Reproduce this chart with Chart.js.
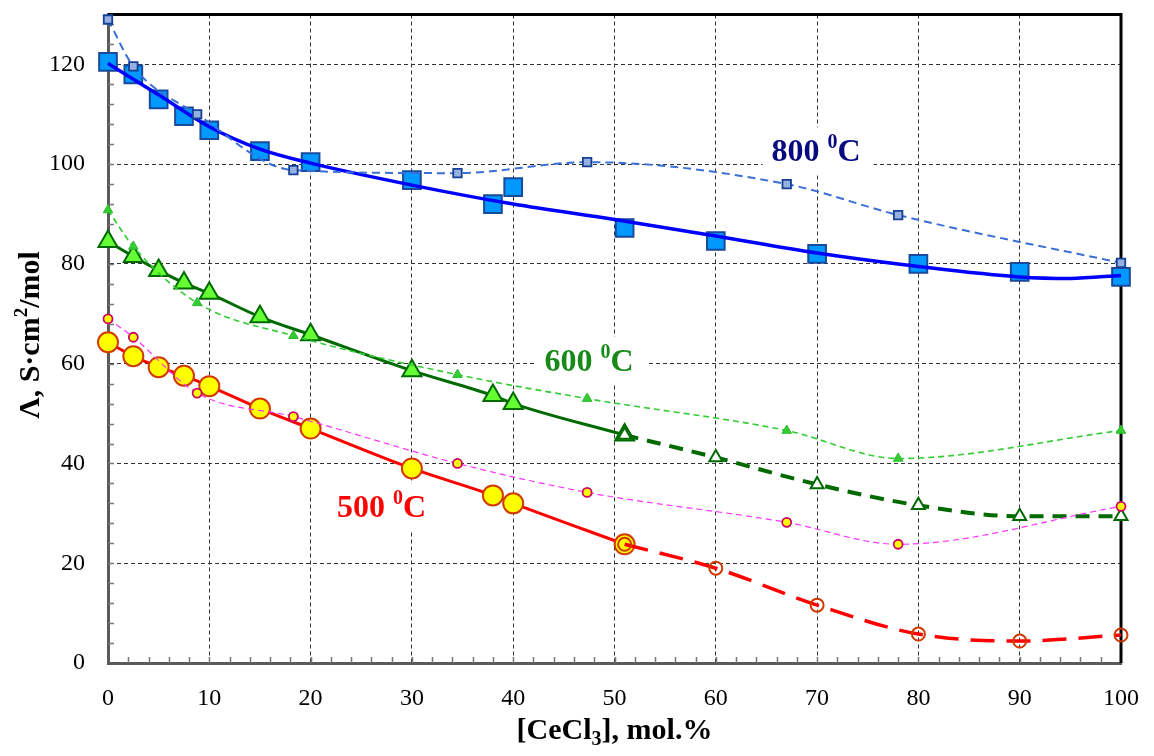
<!DOCTYPE html>
<html>
<head>
<meta charset="utf-8">
<script src="https://cdn.jsdelivr.net/npm/chart.js@4.4.1/dist/chart.umd.min.js"></script>
<style>
    body { margin: 0; background: #fff; }
    canvas { display: block; }
</style>
</head>
<body>
<canvas id="condChart" width="1154" height="756"></canvas>
<script>
// composition, mol.% CeCl3
const xMain = [0, 2.5, 5, 7.5, 10, 15, 20, 30, 38, 40, 51];
const xMain800 = [0, 2.5, 5, 7.5, 10, 15, 20, 30, 38, 40, 51, 60, 70, 80, 90, 100];
const xTail = [51, 60, 70, 80, 90, 100];
const xRef = [0, 2.5, 8.8, 18.3, 34.5, 47.3, 67, 78, 100];
const xFit800 = [0, 2.5, 5, 7.5, 10, 15, 20, 30, 40, 50, 60, 70, 80, 90, 95, 100];

// molar conductivity, S·cm2/mol
const cond800 = [120.5, 118, 113, 109.6, 106.8, 102.6, 100.4, 96.8, 92, 95.4, 87.2, 84.6, 82, 80, 78.4, 77.4];
const fit800 = [120.2, 117.0, 113.9, 110.6, 107.5, 103.0, 100.2, 95.8, 92.0, 88.9, 85.6, 82.2, 79.5, 77.4, 77.1, 77.7];
const cond600 = [84.5, 81.5, 78.7, 76.2, 74.1, 69.4, 65.8, 58.6, 53.6, 52, 45.7];
const cond500 = [64.3, 61.5, 59.3, 57.6, 55.5, 51, 47, 39, 33.6, 32, 23.8];
const tail600 = [45.7, 41.2, 35.8, 31.6, 29.4, 29.4];
const tail500 = [23.8, 19, 11.6, 5.8, 4.4, 5.6];
const ref800 = [129, 119.6, 110, 98.8, 98.2, 100.4, 96, 89.8, 80.2];
const ref600 = [90.8, 83.5, 72.2, 65.6, 57.8, 53, 46.6, 41, 46.6];
const ref500 = [69, 65.3, 54.1, 49.4, 40, 34.2, 28.2, 23.8, 31.4];

const yTicks = [0, 20, 40, 60, 80, 100, 120];
const tempLabels = ['800', '600', '500'];

const SERIF = "'Liberation Serif', 'Times New Roman', serif";

function pts(xs, ys) {
    return xs.map((x, i) => ({ x: x, y: ys[i] }));
}

// draws a run of text pieces (with sub/superscripts)
function drawRich(ctx, parts, x, y, align) {
    let total = 0;
    parts.forEach(p => { ctx.font = p.font; total += ctx.measureText(p.text).width; });
    let cx = align === 'center' ? x - total / 2 : x;
    parts.forEach(p => {
        ctx.font = p.font;
        ctx.fillText(p.text, cx, y + (p.dy || 0));
        cx += ctx.measureText(p.text).width;
    });
    return total;
}

function tempParts(t) {
    return [
        { text: t + ' ', font: 'bold 32px ' + SERIF },
        { text: '0', font: 'bold 20px ' + SERIF, dy: -13 },
        { text: 'C', font: 'bold 32px ' + SERIF }
    ];
}

// keep tick labels from pushing the plot area around
function noPad(s) {
    s.paddingTop = 0;
    s.paddingBottom = 0;
    s.paddingLeft = 0;
    s.paddingRight = 0;
}

/* =====================
   Frame, minor ticks, labels
   ===================== */
const decorPlugin = {
    id: 'decor',
    beforeDatasetsDraw(chart) {
        const { ctx, chartArea: a, scales: { x, y } } = chart;
        ctx.save();

        // minor ticks on the inside of the axes
        ctx.strokeStyle = '#777';
        ctx.lineWidth = 1.5;
        ctx.beginPath();
        for (let v = 4; v < 130; v += 4) {
            const py = Math.round(y.getPixelForValue(v)) + 0.5;
            ctx.moveTo(a.left, py);
            ctx.lineTo(a.left + 6, py);
        }
        for (let v = 2; v < 100; v += 2) {
            const px = Math.round(x.getPixelForValue(v)) + 0.5;
            ctx.moveTo(px, a.bottom);
            ctx.lineTo(px, a.bottom - 6);
        }
        ctx.stroke();

        // top and right border
        ctx.strokeStyle = '#000';
        ctx.lineWidth = 3;
        ctx.beginPath();
        ctx.moveTo(a.left, a.top);
        ctx.lineTo(a.right, a.top);
        ctx.lineTo(a.right, a.bottom);
        ctx.stroke();

        // temperature labels on white boxes
        const spots = [
            { x: 65.5, y: 100.6, color: '#0a0a80' },
            { x: 43.1, y: 58.6, color: '#178a17' },
            { x: 22.6, y: 29.2, color: '#ff0000' }
        ];
        ctx.textBaseline = 'alphabetic';
        spots.forEach((s, i) => {
            const px = x.getPixelForValue(s.x);
            const py = y.getPixelForValue(s.y);
            const parts = tempParts(tempLabels[i]);
            let w = 0;
            parts.forEach(p => { ctx.font = p.font; w += ctx.measureText(p.text).width; });
            ctx.fillStyle = '#fff';
            ctx.fillRect(px - 9, py - 34, w + 22, 48);
            ctx.fillStyle = s.color;
            drawRich(ctx, parts, px, py, 'left');
        });
        ctx.restore();
    },
    afterDraw(chart) {
        const { ctx, chartArea: a } = chart;
        ctx.save();
        ctx.fillStyle = '#000';
        ctx.textBaseline = 'alphabetic';

        // x axis title with subscript
        drawRich(ctx, [
            { text: '[CeCl', font: 'bold 30px ' + SERIF },
            { text: '3', font: 'bold 20px ' + SERIF, dy: 6 },
            { text: '], mol.%', font: 'bold 30px ' + SERIF }
        ], (a.left + a.right) / 2, 739, 'center');

        // y axis title with superscript
        ctx.translate(39, 335);
        ctx.rotate(-Math.PI / 2);
        drawRich(ctx, [
            { text: 'Λ, S·cm', font: 'bold 30px ' + SERIF },
            { text: '2', font: 'bold 19px ' + SERIF, dy: -12 },
            { text: '/mol', font: 'bold 30px ' + SERIF }
        ], 0, 0, 'center');
        ctx.restore();
    }
};

const ctx = document.getElementById('condChart');
new Chart(ctx, {
    type: 'line',
    data: {
        datasets: [
            // 800 C measured
            {
                data: pts(xMain800, cond800),
                showLine: false,
                pointStyle: 'rect',
                pointRadius: 12.5,
                backgroundColor: '#0099ff',
                borderColor: '#1a4a9c',
                pointBorderWidth: 2,
                order: 10
            },
            // 800 C fitted curve
            {
                data: pts(xFit800, fit800),
                borderColor: '#0000ff',
                borderWidth: 3.5,
                pointRadius: 0,
                cubicInterpolationMode: 'monotone',
                order: 9
            },
            // 600 C measured with trend
            {
                data: pts(xMain, cond600),
                borderColor: '#006a00',
                borderWidth: 3,
                pointStyle: 'triangle',
                pointRadius: 11,
                pointBackgroundColor: '#66ff33',
                pointBorderColor: '#006a00',
                pointBorderWidth: 2,
                cubicInterpolationMode: 'monotone',
                order: 10
            },
            // 500 C measured with trend
            {
                data: pts(xMain, cond500),
                borderColor: '#ff0000',
                borderWidth: 3,
                pointStyle: 'circle',
                pointRadius: 10,
                pointBackgroundColor: '#ffff00',
                pointBorderColor: '#d03a00',
                pointBorderWidth: 2,
                cubicInterpolationMode: 'monotone',
                order: 10
            },
            // 600 C extrapolation
            {
                data: pts(xTail, tail600),
                borderColor: '#006a00',
                borderWidth: 4,
                borderDash: [14, 9],
                pointStyle: 'triangle',
                pointRadius: 7.5,
                pointBackgroundColor: '#ffffff',
                pointBorderColor: '#006a00',
                pointBorderWidth: 2,
                cubicInterpolationMode: 'monotone',
                order: 8
            },
            // 500 C extrapolation
            {
                data: pts(xTail, tail500),
                borderColor: '#ff0000',
                borderWidth: 3.5,
                borderDash: [24, 12],
                pointStyle: 'circle',
                pointRadius: 6.5,
                pointBackgroundColor: 'rgba(255,255,255,0)',
                pointBorderColor: '#d03a00',
                pointBorderWidth: 2,
                cubicInterpolationMode: 'monotone',
                order: 8
            },
            // literature data
            {
                data: pts(xRef, ref800),
                borderColor: '#3a6fd8',
                borderWidth: 2,
                borderDash: [8, 5],
                pointStyle: 'rect',
                pointRadius: 6,
                pointBackgroundColor: '#95b1e0',
                pointBorderColor: '#163f96',
                pointBorderWidth: 1.8,
                cubicInterpolationMode: 'monotone',
                order: 5
            },
            {
                data: pts(xRef, ref600),
                borderColor: '#33cc33',
                borderWidth: 1.6,
                borderDash: [6, 4],
                pointStyle: 'triangle',
                pointRadius: 5.5,
                pointBackgroundColor: '#33cc33',
                pointBorderColor: '#2bbb2b',
                pointBorderWidth: 1,
                cubicInterpolationMode: 'monotone',
                order: 5
            },
            {
                data: pts(xRef, ref500),
                borderColor: '#ff33ff',
                borderWidth: 1.2,
                borderDash: [6, 4],
                pointStyle: 'circle',
                pointRadius: 4.5,
                pointBackgroundColor: '#ffff00',
                pointBorderColor: '#cc0066',
                pointBorderWidth: 1.8,
                cubicInterpolationMode: 'monotone',
                order: 5
            }
        ]
    },
    options: {
        responsive: false,
        animation: false,
        clip: false,
        layout: { padding: { top: 13, right: 33, left: 0, bottom: 0 } },
        plugins: {
            legend: { display: false },
            tooltip: { enabled: false }
        },
        scales: {
            x: {
                type: 'linear',
                min: 0,
                max: 100,
                ticks: {
                    stepSize: 10,
                    color: '#000',
                    padding: 21,
                    maxRotation: 0,
                    font: { family: SERIF, size: 24 }
                },
                grid: { color: '#333', lineWidth: 1, drawTicks: false },
                border: { color: '#5a5a5a', width: 3, dash: [4, 3] },
                afterFit: s => { s.height = 93; noPad(s); }
            },
            y: {
                type: 'linear',
                min: 0,
                max: 130,
                ticks: {
                    color: '#000',
                    padding: 23,
                    font: { family: SERIF, size: 24 }
                },
                afterBuildTicks: s => { s.ticks = yTicks.map(v => ({ value: v })); },
                grid: { color: '#333', lineWidth: 1, drawTicks: false },
                border: { color: '#5a5a5a', width: 3, dash: [4, 3] },
                afterFit: s => { s.width = 108; noPad(s); }
            }
        }
    },
    plugins: [decorPlugin]
});
</script>
</body>
</html>
